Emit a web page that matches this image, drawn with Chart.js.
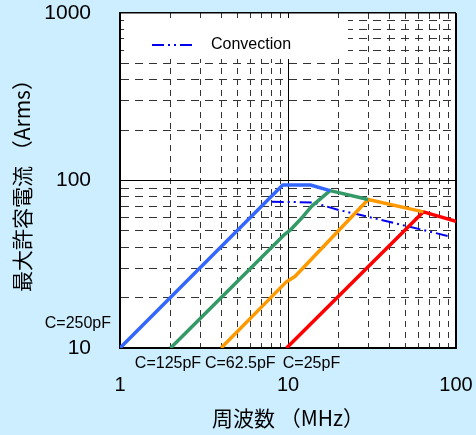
<!DOCTYPE html>
<html>
<head>
<meta charset="utf-8">
<script src="https://cdn.jsdelivr.net/npm/chart.js@4/dist/chart.umd.min.js"></script>
<style>
  html, body { margin: 0; padding: 0; background: #cceeff; }
  canvas { display: block; }
</style>
</head>
<body>
<canvas id="chart" width="476" height="435"></canvas>
<script>
// frequency (MHz) vs. max allowable current (Arms)
const c250Freq    = [1, 9.3, 13.6, 17.8];
const c250Current = [10, 94, 94, 87];
const c125Freq    = [2, 9.4, 10.3, 12.3, 13.8, 17.8, 30];
const c125Current = [10, 47, 50.5, 61, 70, 87, 77];
const c62Freq     = [4, 9.8, 11, 30, 64];
const c62Current  = [10, 24.9, 26.7, 77, 65];
const c25Freq     = [9.8, 64, 100];
const c25Current  = [10, 65, 57];
const convFreq    = [8, 14, 20, 29.4, 92];
const convCurrent = [74.7, 74, 66.7, 61, 46.3];

const seriesNames = ['C=250pF', 'C=125pF', 'C=62.5pF', 'C=25pF', 'Convection'];

const xTicks  = [1, 2, 3, 4, 5, 6, 7, 8, 9, 10, 20, 30, 40, 50, 60, 70, 80, 90, 100];
const yTicks  = [10, 20, 30, 40, 50, 60, 70, 80, 90, 100, 200, 300, 400, 500, 600, 700, 800, 900, 1000];
const xLabels = [1, 10, 100];
const yLabels = [10, 100, 1000];

const pts = (xs, ys) => xs.map((x, i) => ({ x, y: ys[i] }));
const isDecade = v => Math.abs(Math.log10(v) - Math.round(Math.log10(v))) < 1e-9;

const datasets = [
  { label: seriesNames[0], data: pts(c250Freq, c250Current), borderColor: '#3366ff', borderWidth: 3.5 },
  { label: seriesNames[1], data: pts(c125Freq, c125Current), borderColor: '#339966', borderWidth: 3.5 },
  { label: seriesNames[2], data: pts(c62Freq, c62Current),   borderColor: '#ff9900', borderWidth: 3.5 },
  { label: seriesNames[3], data: pts(c25Freq, c25Current),   borderColor: '#ff0000', borderWidth: 3.5 },
  { label: seriesNames[4], data: pts(convFreq, convCurrent), borderColor: '#0000ee', borderWidth: 2,
    borderDash: [12, 4, 2, 4, 2, 4] }
];
// draw convection underneath the capacitor curves
datasets[4].order = 5;

const decor = {
  id: 'decor',
  beforeDraw(chart) {
    const { ctx, chartArea: a } = chart;
    ctx.save();
    ctx.fillStyle = '#fff';
    ctx.fillRect(a.left, a.top, a.right - a.left, a.bottom - a.top);
    ctx.restore();
  },
  beforeDatasetsDraw(chart) {
    // legend box hides the grid behind it
    const { ctx, chartArea: a } = chart;
    ctx.save();
    ctx.fillStyle = '#fff';
    ctx.fillRect(a.left + 4, a.top + 5, 224, 41);
    ctx.restore();
  },
  afterDraw(chart) {
    const { ctx, chartArea: a, scales } = chart;
    const conv = chart.data.datasets[4];
    ctx.save();
    // legend, inside the plot
    ctx.strokeStyle = conv.borderColor;
    ctx.lineWidth = conv.borderWidth;
    ctx.setLineDash(conv.borderDash);
    ctx.beginPath();
    ctx.moveTo(a.left + 32, a.top + 32);
    ctx.lineTo(a.left + 76, a.top + 32);
    ctx.stroke();
    ctx.setLineDash([]);
    ctx.fillStyle = '#000';
    ctx.font = '16px "Liberation Sans"';
    ctx.textBaseline = 'middle';
    ctx.textAlign = 'left';
    ctx.fillText(conv.label, a.left + 91, a.top + 32);
    // capacitance labels at the foot of each curve
    ctx.textAlign = 'right';
    ctx.fillText(seriesNames[0], a.left - 9, scales.y.getPixelForValue(14));
    ctx.textAlign = 'center';
    [1.93, 5.2, 13.8].forEach((f, i) => {
      ctx.fillText(seriesNames[i + 1], scales.x.getPixelForValue(f), a.bottom + 16);
    });
    ctx.restore();
  }
};

new Chart(document.getElementById('chart'), {
  type: 'line',
  data: { datasets },
  plugins: [decor],
  options: {
    responsive: false,
    animation: false,
    layout: { padding: { left: 0, top: 13, right: 20, bottom: 0 } },
    elements: {
      point: { radius: 0 },
      line: { tension: 0, fill: false, borderJoinStyle: 'round' }
    },
    plugins: {
      legend: { display: false },
      tooltip: { enabled: false }
    },
    scales: {
      x: {
        type: 'logarithmic',
        min: 1, max: 100,
        afterBuildTicks: s => { s.ticks = xTicks.map(v => ({ value: v })); },
        afterFit: s => { s.height = 87; s.paddingLeft = 0; s.paddingRight = 0; },
        ticks: {
          autoSkip: false, maxRotation: 0, padding: 25, color: '#000',
          font: { family: 'Liberation Sans', size: 20 },
          callback: v => xLabels.includes(v) ? String(v) : ''
        },
        grid: {
          drawTicks: false,
          color: c => c.tick && isDecade(c.tick.value) ? '#000' : '#333',
          lineWidth: c => c.tick && c.tick.value === 100 ? 2 : 1
        },
        border: {
          display: true, color: '#000', width: 2,
          dash: c => c.tick && !isDecade(c.tick.value) ? [6, 5] : []
        },
        title: {
          display: true, text: '周波数 （MHz）', color: '#000',
          font: { family: 'Noto Sans CJK JP', size: 21 },
          padding: { top: 0, bottom: 4 }
        }
      },
      y: {
        type: 'logarithmic',
        min: 10, max: 1000,
        afterBuildTicks: s => { s.ticks = yTicks.map(v => ({ value: v })); },
        afterFit: s => { s.width = 120; s.paddingTop = 0; s.paddingBottom = 0; },
        ticks: {
          autoSkip: false, padding: 29, color: '#000',
          font: { family: 'Liberation Sans', size: 21 },
          callback: v => yLabels.includes(v) ? String(v) : ''
        },
        grid: {
          drawTicks: false,
          color: c => c.tick && isDecade(c.tick.value) ? '#000' : '#333',
          lineWidth: c => c.tick && c.tick.value === 1000 ? 1.5 : 1
        },
        border: {
          display: true, color: '#000', width: 2,
          dash: c => c.tick && !isDecade(c.tick.value) ? [8, 6] : []
        },
        title: {
          display: true, text: '最大許容電流 （Arms）', color: '#000',
          font: { family: 'Noto Sans CJK JP', size: 21 },
          padding: { top: 9, bottom: 0 }
        }
      }
    }
  }
});
</script>
</body>
</html>
